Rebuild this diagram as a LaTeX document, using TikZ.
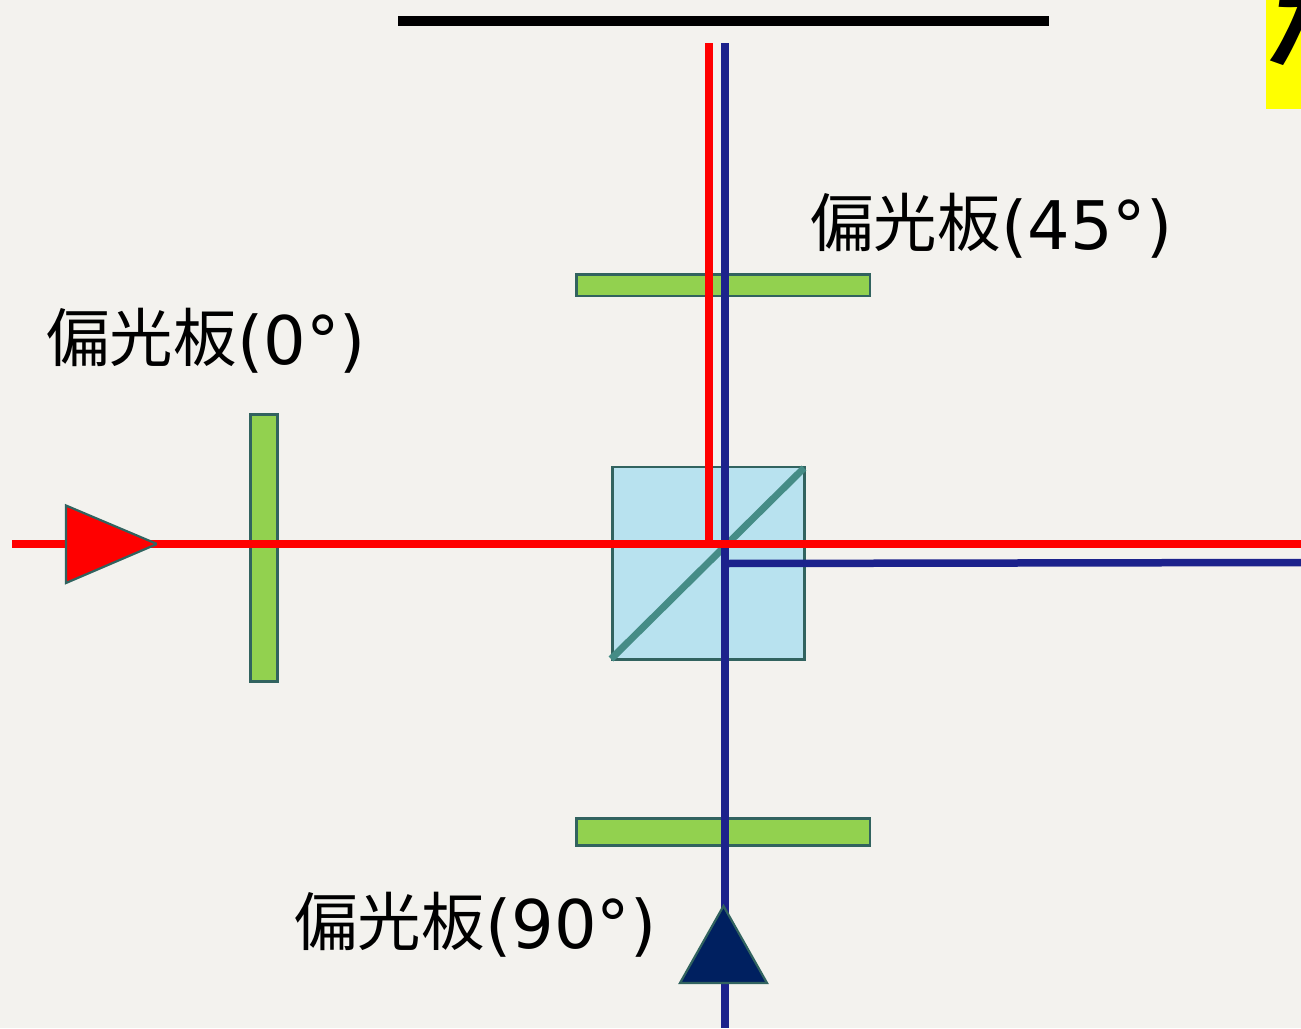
\documentclass[tikz,border=0pt]{standalone}
\usepackage{fontspec}
\setmainfont{DejaVu Sans}
\newfontfamily\cjk{Noto Sans CJK JP}
\newfontfamily\cjkb[FakeSlant=0.15]{Noto Sans CJK JP Bold}
\definecolor{bgc}{HTML}{F3F2EE}
\definecolor{edgec}{HTML}{31635F}
\definecolor{plate}{HTML}{92D14F}
\definecolor{cube}{HTML}{B8E2EF}
\definecolor{diag}{HTML}{458C86}
\definecolor{bluebeam}{HTML}{1C228C}
\definecolor{navytri}{HTML}{002060}
\definecolor{tagyellow}{RGB}{255,255,0}
\tikzset{
  every node/.style={inner sep=0pt,outer sep=0pt},
  plate/.style={draw=edgec,fill=plate,line width=2.2pt},
  red beam/.style={draw=red,line width=7.5pt},
  blue beam/.style={draw=bluebeam,line width=7.5pt},
  tri/.style={draw=edgec,line width=2.2pt,line join=miter},
  lbl/.style={anchor=base west,font=\fontsize{67}{67}\selectfont,text=black},
}
\newcommand{\pollabel}[1]{{\cjk\fontsize{63.5}{67}\selectfont 偏光板}\raisebox{-3pt}{\kern1pt(#1°)}}
\begin{document}
\begin{tikzpicture}[x=1pt,y=-1pt]
\useasboundingbox (0,0) rectangle (1301,1028);
\clip (0,0) rectangle (1301,1028);
\fill[bgc] (0,0) rectangle (1301,1028);
% corner label
\fill[tagyellow] (1266,0) rectangle (1301,109);
\node[anchor=base west,font=\fontsize{100}{100}\selectfont\cjkb] (corner) at (1261,60) {た};
% screen
\coordinate (screenL) at (398,21);
\coordinate (screenR) at (1049,21);
\draw[black,line width=10pt] (screenL) -- (screenR);
% plates
\draw[plate] (250.5,414.5) rectangle (277.5,681.5);
\draw[plate] (576.5,274.5) rectangle (870,296);
\draw[plate] (576.5,818.5) rectangle (870,845.5);
% cube
\draw[draw=edgec,fill=cube,line width=2.2pt] (612.5,467) rectangle (804.5,659.5);
\draw[diag,line width=7pt] (611,659) -- (804,468);
% beams
\coordinate (blueTop) at (725,43);
\coordinate (blueBot) at (725,1028);
\coordinate (blueJ) at (725,563.5);
\coordinate (blueOut) at (1301,562.5);
\coordinate (redTop) at (709,43);
\coordinate (redJ) at (709,544);
\coordinate (redIn) at (12,544);
\coordinate (redOut) at (1301,544);
\draw[red beam] (redTop) -- (709,547.5);
\draw[blue beam] (blueTop) -- (blueBot);
\draw[blue beam] (blueJ) -- (blueOut);
\draw[red beam] (redIn) -- (redOut);
% triangles
\draw[tri,fill=red] (66,505.5) -- (157,544) -- (66,583) -- cycle;
\draw[red beam] (157,544) -- (165,544);
\draw[tri,fill=navytri] (723.5,906) -- (767,983) -- (680,983) -- cycle;
% labels
\node[lbl] (l45) at (810,246) {\pollabel{45}};
\node[lbl] (l0) at (46,361) {\pollabel{0}};
\node[lbl] (l90) at (294,945) {\pollabel{90}};
\end{tikzpicture}
\end{document}
